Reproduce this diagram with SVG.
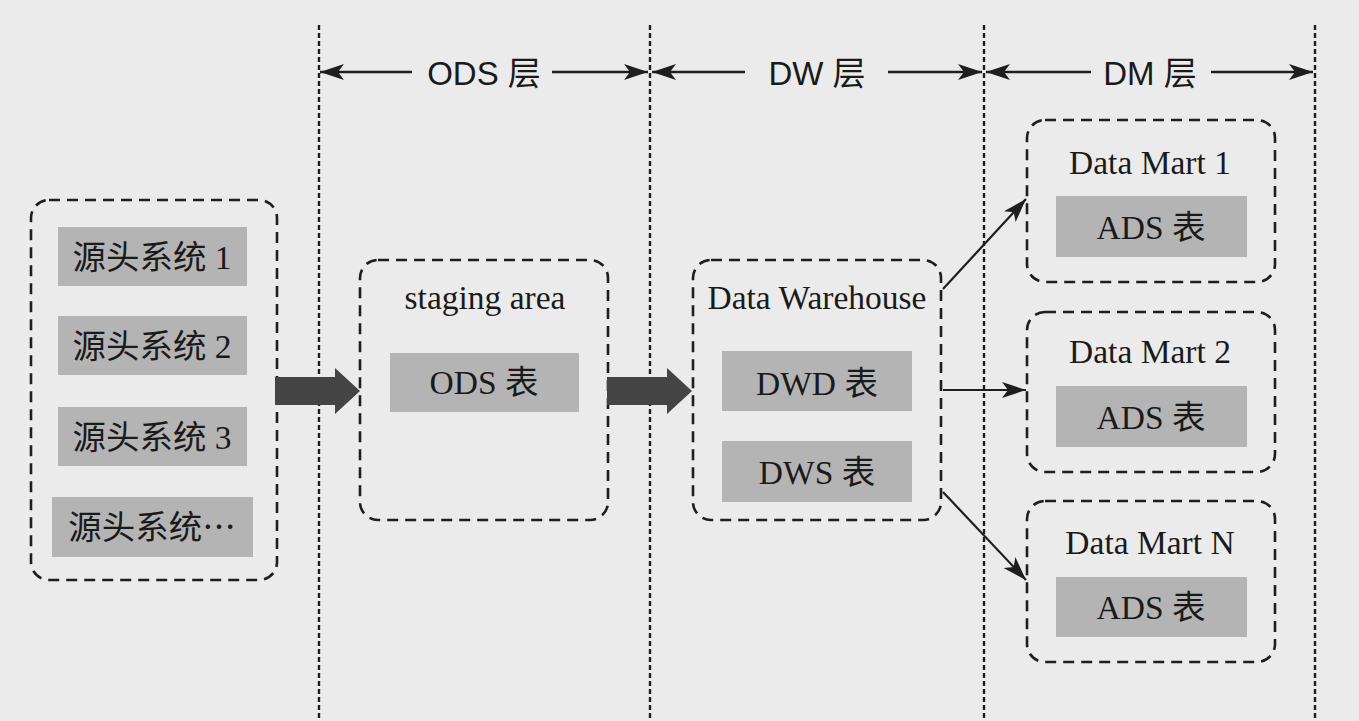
<svg xmlns="http://www.w3.org/2000/svg" width="1359" height="721" viewBox="0 0 1359 721">
<defs>
<style>
.bg{fill:#ebebeb}
.vline{stroke:#1e1e1e;stroke-width:2.4;stroke-dasharray:5 3;fill:none}
.layer{stroke:#1e1e1e;stroke-width:2.6;fill:none;marker-end:url(#ah)}
.conn{stroke:#1e1e1e;stroke-width:2.2;fill:none;marker-end:url(#ah)}
.group{fill:none;stroke:#1e1e1e;stroke-width:2.6;stroke-dasharray:11 7}
.tbl{fill:#b4b4b4}
.thick{fill:#444}
.lt{font-family:"Liberation Sans","Noto Sans CJK SC",sans-serif;font-size:33px;fill:#1a1a1a;text-anchor:middle}
.st{font-family:"Liberation Serif","Noto Sans CJK SC",serif;font-size:33.5px;fill:#1a1a1a;text-anchor:middle}
</style>
<marker id="ah" viewBox="0 0 24 16" refX="24" refY="8" markerWidth="24" markerHeight="16" markerUnits="userSpaceOnUse" orient="auto">
<path d="M0,0 L24,8 L0,16 L6,8 Z" fill="#1e1e1e"/>
</marker>
</defs>
<rect class="bg" x="0" y="0" width="1359" height="721"/>

<g id="layers">
<line class="vline" x1="319" y1="25" x2="319" y2="721"/>
<line class="vline" x1="650" y1="25" x2="650" y2="721"/>
<line class="vline" x1="984" y1="25" x2="984" y2="721"/>
<line class="vline" x1="1315" y1="25" x2="1315" y2="721"/>
<line class="layer" x1="412" y1="72" x2="320" y2="72"/>
<line class="layer" x1="552" y1="72" x2="648" y2="72"/>
<text class="lt" x="484" y="85">ODS 层</text>
<line class="layer" x1="745" y1="72" x2="652" y2="72"/>
<line class="layer" x1="888" y1="72" x2="982" y2="72"/>
<text class="lt" x="817" y="85">DW 层</text>
<line class="layer" x1="1091" y1="72" x2="986" y2="72"/>
<line class="layer" x1="1211" y1="72" x2="1313" y2="72"/>
<text class="lt" x="1150" y="85">DM 层</text>
</g>

<g id="sources">
<rect class="group" x="31" y="200" width="246" height="380" rx="18"/>
<rect class="tbl" x="58" y="227" width="189" height="59"/>
<text class="st" x="152" y="269">源头系统 1</text>
<rect class="tbl" x="58" y="316" width="189" height="59"/>
<text class="st" x="152" y="358">源头系统 2</text>
<rect class="tbl" x="58" y="407" width="189" height="59"/>
<text class="st" x="152" y="449">源头系统 3</text>
<rect class="tbl" x="52" y="497" width="201" height="60"/>
<text class="st" x="152" y="539">源头系统<tspan font-family="Noto Sans CJK SC">…</tspan></text>
</g>

<g id="staging">
<rect class="group" x="360" y="260" width="248" height="260" rx="18"/>
<text class="st" x="485" y="309">staging area</text>
<rect class="tbl" x="390" y="353" width="189" height="59"/>
<text class="st" x="484" y="394">ODS 表</text>
</g>

<g id="warehouse">
<rect class="group" x="693" y="260" width="248" height="260" rx="18"/>
<text class="st" x="817" y="309">Data Warehouse</text>
<rect class="tbl" x="722" y="351" width="190" height="60"/>
<text class="st" x="817" y="395">DWD 表</text>
<rect class="tbl" x="722" y="441" width="190" height="61"/>
<text class="st" x="817" y="484">DWS 表</text>
</g>

<g id="mart1">
<rect class="group" x="1027" y="120" width="248" height="162" rx="18"/>
<text class="st" x="1150" y="174">Data Mart 1</text>
<rect class="tbl" x="1056" y="196" width="191" height="61"/>
<text class="st" x="1151" y="239">ADS 表</text>
</g>

<g id="mart2">
<rect class="group" x="1027" y="312" width="248" height="160" rx="18"/>
<text class="st" x="1150" y="363">Data Mart 2</text>
<rect class="tbl" x="1056" y="386" width="191" height="61"/>
<text class="st" x="1151" y="429">ADS 表</text>
</g>

<g id="martN">
<rect class="group" x="1027" y="501" width="248" height="161" rx="18"/>
<text class="st" x="1150" y="554">Data Mart N</text>
<rect class="tbl" x="1056" y="577" width="191" height="60"/>
<text class="st" x="1151" y="619">ADS 表</text>
</g>

<g id="connectors">
<path class="thick" d="M275,377 L335,377 L335,368 L360,391 L335,414 L335,405 L275,405 Z"/>
<path class="thick" d="M607,377 L667,377 L667,368 L692,391 L667,414 L667,405 L607,405 Z"/>
<line class="conn" x1="943" y1="289" x2="1026" y2="199"/>
<line class="conn" x1="943" y1="390" x2="1026" y2="390"/>
<line class="conn" x1="943" y1="492" x2="1026" y2="580"/>
</g>
</svg>
